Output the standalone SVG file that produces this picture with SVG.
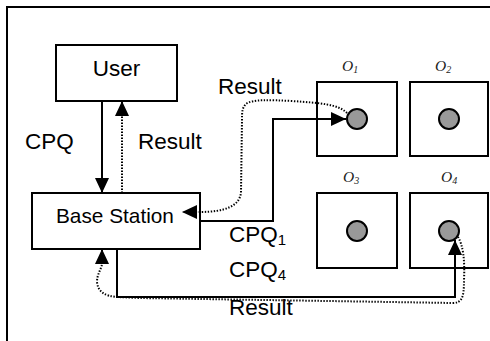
<svg xmlns="http://www.w3.org/2000/svg" width="490" height="341" viewBox="0 0 490 341">
<defs>
<marker id="ah" viewBox="0 0 15 14" refX="15" refY="7" markerWidth="15" markerHeight="14" markerUnits="userSpaceOnUse" orient="auto">
<path d="M0,0 L15,7 L0,14 Z" fill="#000"/>
</marker>
<style>
.box{fill:#fff;stroke:#000;stroke-width:2}
.ln{fill:none;stroke:#000;stroke-width:2}
.dot{fill:none;stroke:#000;stroke-width:2;stroke-dasharray:1.4 1.6}
.lbl{font-family:"Liberation Sans",Arial,sans-serif;font-size:22.5px;fill:#000}
.obj{font-family:"Liberation Serif","Times New Roman",serif;font-style:italic;font-size:15.5px;fill:#222}
.ball{fill:#999;stroke:#000;stroke-width:2}
</style>
</defs>
<rect x="0" y="0" width="490" height="341" fill="#fff"/>
<rect x="7" y="7" width="490" height="345" fill="none" stroke="#000" stroke-width="2"/>

<g id="user">
<rect class="box" x="56" y="45" width="121" height="56"/>
<text class="lbl" x="116.5" y="76" text-anchor="middle">User</text>
</g>
<g id="base-station">
<rect class="box" x="32" y="193" width="168" height="56"/>
<text class="lbl" x="56" y="222.5" style="font-size:20.8px">Base Station</text>
</g>

<g id="o1">
<text class="obj" x="342" y="70.5">O<tspan font-size="10" dy="2">1</tspan></text>
<rect class="box" x="317" y="82" width="80" height="74"/>
<circle class="ball" cx="357" cy="119" r="10"/>
</g>
<g id="o2">
<text class="obj" x="435" y="70.5">O<tspan font-size="10" dy="2">2</tspan></text>
<rect class="box" x="410" y="82" width="78" height="74"/>
<circle class="ball" cx="449" cy="119" r="10"/>
</g>
<g id="o3">
<text class="obj" x="343" y="181.5">O<tspan font-size="10" dy="2">3</tspan></text>
<rect class="box" x="317" y="193" width="80" height="75"/>
<circle class="ball" cx="357" cy="231" r="10"/>
</g>
<g id="o4">
<text class="obj" x="441" y="181.5">O<tspan font-size="10" dy="2">4</tspan></text>
<rect class="box" x="410" y="193" width="78" height="75"/>
<circle class="ball" cx="449" cy="231" r="10"/>
</g>

<g id="connectors">
<path class="ln" d="M102,101 V193" marker-end="url(#ah)"/>
<path class="dot" d="M122,193 V101" marker-end="url(#ah)"/>
<path class="ln" d="M200,221 H273 V119 H346" marker-end="url(#ah)"/>
<path class="dot" d="M347,113 C338,104 320,103 292,101 C270,100 252,99 246,104 C242,108 242,112 242,120 L241,192 C240,206 225,212 200,212 L182,212" marker-end="url(#ah)"/>
<path class="ln" d="M117,249 V297 H455 V240" marker-end="url(#ah)"/>
<path class="dot" d="M458,237 C463,245 465,260 464,280 C464,298 462,303 452,303 C330,301 200,299 140,298 L117,297 C105,296 98,292 97,282 C97,274 101,270 102,264 L102,249" marker-end="url(#ah)"/>
</g>

<g id="labels">
<text class="lbl" x="25" y="149">CPQ</text>
<text class="lbl" x="138" y="149">Result</text>
<text class="lbl" x="218" y="94">Result</text>
<text class="lbl" x="229" y="241.5">CPQ<tspan font-size="15" dy="3">1</tspan></text>
<text class="lbl" x="229" y="277">CPQ<tspan font-size="15" dy="3">4</tspan></text>
<text class="lbl" x="229" y="315">Result</text>
</g>
</svg>
